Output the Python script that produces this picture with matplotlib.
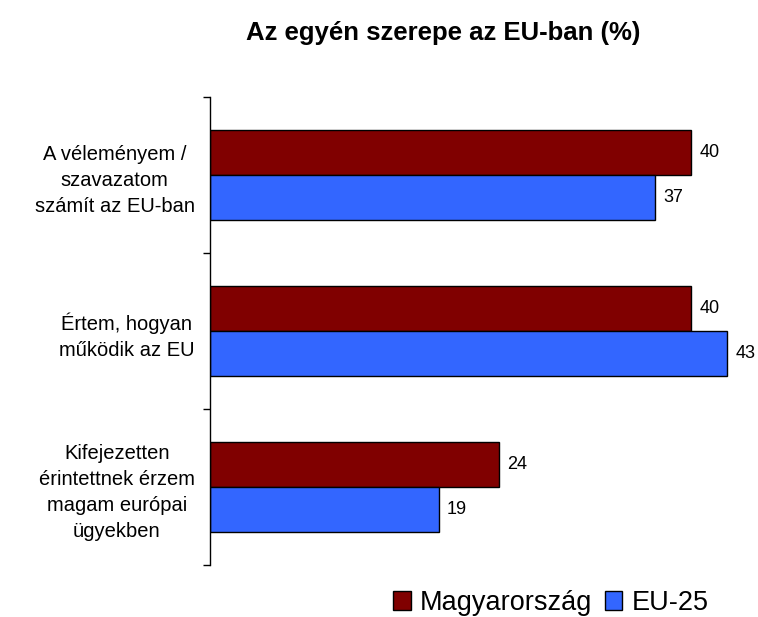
import matplotlib
matplotlib.use("Agg")
import matplotlib.pyplot as plt
import numpy as np

plt.rcParams['font.family'] = ['Liberation Sans', 'DejaVu Sans']

title = "Az egyén szerepe az EU-ban (%)"
categories = ["A véleményem /\nszavazatom\nszámít az EU-ban",
              "Értem, hogyan\nműködik az EU",
              "Kifejezetten\nérintettnek érzem\nmagam európai\nügyekben"]
series_names = ["Magyarország", "EU-25"]
hu_values = [40, 40, 24]
eu_values = [37, 43, 19]
colors = ["#800000", "#3366FF"]

fig = plt.figure(figsize=(7.58, 6.17), dpi=100)
ax = fig.add_axes([210/758, 1-565/617, 530/758, (565-97)/617])

y = np.arange(len(categories))
h = 0.29
off = 0.145
b1 = ax.barh(y - off, hu_values, height=h, color=colors[0], edgecolor='black', linewidth=1, label=series_names[0])
b2 = ax.barh(y + off, eu_values, height=h, color=colors[1], edgecolor='black', linewidth=1, label=series_names[1])

for bars, vals in ((b1, hu_values), (b2, eu_values)):
    for rect, v in zip(bars, vals):
        ax.annotate(str(v), (rect.get_width(), rect.get_y() + rect.get_height()/2),
                    xytext=(6, 0), textcoords='offset points', va='center', ha='left', fontsize=13)

ax.set_xlim(0, 530/12.03)
ax.set_ylim(len(categories) - 0.5, -0.5)
ax.set_yticks(y)
ax.set_yticklabels(categories, fontsize=14.5, multialignment='center', linespacing=1.45)
ax.tick_params(axis='y', which='major', length=0, pad=11)
ax.set_yticks(np.arange(-0.5, len(categories), 1.0), minor=True)
ax.tick_params(axis='y', which='minor', length=5, width=1, direction='out')
ax.set_xticks([])
for s in ['top', 'right', 'bottom']:
    ax.spines[s].set_visible(False)
ax.spines['left'].set_linewidth(1)

fig.text(443/758, 1-33/617, title, ha='center', va='center', fontsize=18.5, fontweight='bold')

fig.legend(handles=[b1, b2], labels=series_names, loc='center', bbox_to_anchor=(551/758, 1-603/617),
           ncol=2, frameon=False, fontsize=19.5, handlelength=0.65, handleheight=0.65,
           handletextpad=0.35, columnspacing=0.45)

fig.savefig("out.png", dpi=100)
